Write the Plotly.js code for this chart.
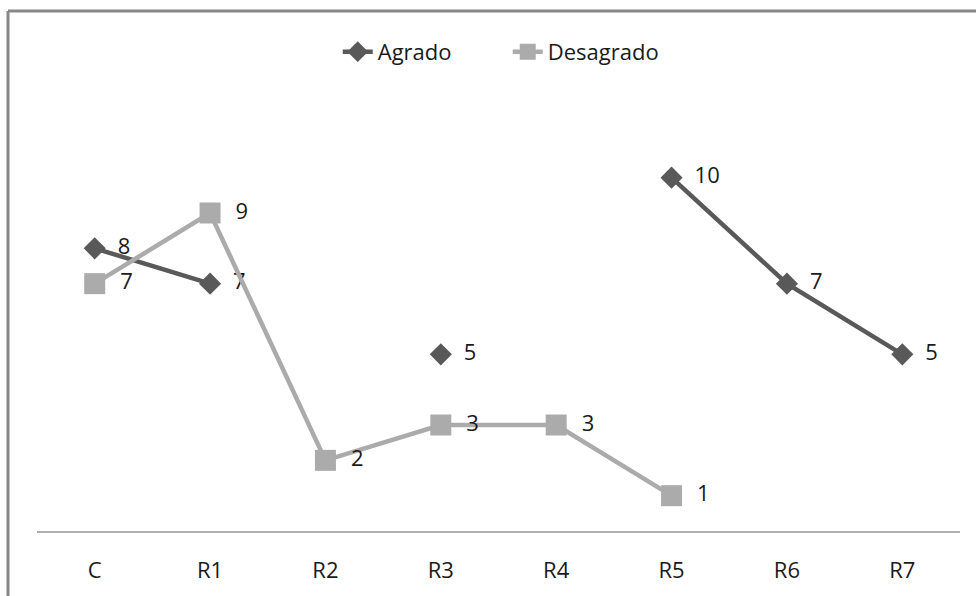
<!DOCTYPE html>
<html>
<head>
<meta charset="utf-8">
<script src="https://cdn.plot.ly/plotly-3.0.1.min.js"></script>
<style>
  html, body { margin: 0; padding: 0; background: #fff; }
  #chart { width: 976px; height: 596px; }
</style>
</head>
<body>
<div id="chart"></div>
<script>
// Categories and series values (null = no value for that category)
const categories = ['C', 'R1', 'R2', 'R3', 'R4', 'R5', 'R6', 'R7'];
const agrado     = [8, 7, null, 5, null, 10, 7, 5];
const desagrado  = [7, 9, 2, 3, 3, 1, null, null];
const seriesNames = ['Agrado', 'Desagrado'];

const fontFamily = 'Open Sans, sans-serif';
const labelFont = { family: fontFamily, size: 22, color: '#1a1a1a' };
const asLabels = vals => vals.map(v => v === null ? '' : '  ' + v);

const traces = [
  {
    x: categories, y: agrado, name: seriesNames[0],
    type: 'scatter', mode: 'lines+markers+text',
    line: { color: '#595959', width: 4.5 },
    marker: { symbol: 'diamond', size: 17, color: '#595959' },
    text: asLabels(agrado), textposition: 'middle right', textfont: labelFont,
    connectgaps: false, cliponaxis: false
  },
  {
    x: categories, y: desagrado, name: seriesNames[1],
    type: 'scatter', mode: 'lines+markers+text',
    line: { color: '#ababab', width: 4.5 },
    marker: { symbol: 'square', size: 21, color: '#ababab' },
    text: asLabels(desagrado), textposition: 'middle right', textfont: labelFont,
    connectgaps: false, cliponaxis: false
  }
];

// chart frame (left and top edges)
const frameColor = '#888888';
const frameX = -29 / 923, frameTop = 520 / 424;

const layout = {
  width: 976, height: 596,
  margin: { l: 37, r: 16, t: 107, b: 65 },
  paper_bgcolor: '#ffffff', plot_bgcolor: '#ffffff',
  font: { family: fontFamily, size: 22, color: '#1a1a1a' },
  showlegend: true,
  legend: {
    orientation: 'h', x: 0.51, xanchor: 'center', y: 1.13, yanchor: 'middle',
    font: { family: fontFamily, size: 22, color: '#1a1a1a' },
    entrywidth: 125, entrywidthmode: 'pixels'
  },
  xaxis: {
    type: 'category', categoryorder: 'array', categoryarray: categories,
    range: [-0.5, 7.5], showgrid: false, zeroline: false,
    showline: true, linecolor: '#b0b0b0', linewidth: 1.5,
    ticks: '', ticklabelstandoff: 19,
    tickfont: { family: fontFamily, size: 22, color: '#1a1a1a' }
  },
  yaxis: {
    range: [0, 12], showgrid: false, zeroline: false, showline: false,
    showticklabels: false, ticks: ''
  },
  shapes: [
    { type: 'line', xref: 'paper', yref: 'paper', x0: frameX, x1: frameX, y0: frameTop, y1: -0.2,
      line: { color: frameColor, width: 3 } },
    { type: 'line', xref: 'paper', yref: 'paper', x0: frameX, x1: 1.05, y0: frameTop, y1: frameTop,
      line: { color: frameColor, width: 3 } }
  ]
};

Plotly.newPlot('chart', traces, layout, { displayModeBar: false, staticPlot: true });
</script>
</body>
</html>
